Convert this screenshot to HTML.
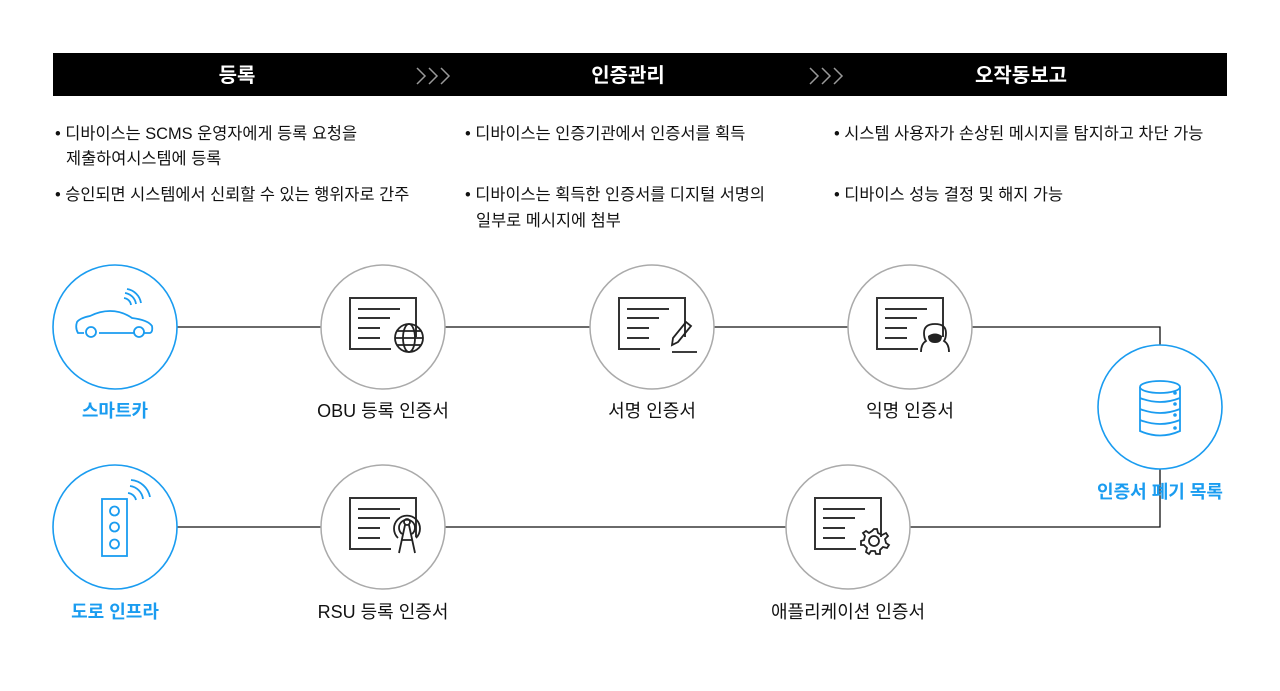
<!DOCTYPE html>
<html><head><meta charset="utf-8"><style>
body{margin:0;background:#fff;width:1280px;height:686px;overflow:hidden}
svg text{font-family:"Liberation Sans","Noto Sans CJK KR",sans-serif}
</style></head><body>
<svg width="1280" height="686" viewBox="0 0 1280 686" xmlns="http://www.w3.org/2000/svg">
<defs>
<g id="doc" fill="none" stroke="#333" stroke-width="2">
<polyline points="33,10 33,-29 -33,-29 -33,22 8,22"/>
<line x1="-25" y1="-18" x2="17" y2="-18"/>
<line x1="-25" y1="-9" x2="7" y2="-9"/>
<line x1="-25" y1="1" x2="-3" y2="1"/>
<line x1="-25" y1="11" x2="-3" y2="11"/>
</g>
<g id="chev" fill="none" stroke="#999" stroke-width="1.5">
<polyline points="0,0 8,8 0,16"/><polyline points="12,0 20,8 12,16"/><polyline points="24,0 32,8 24,16"/>
</g>
</defs>
<rect x="53" y="53" width="1174" height="43" fill="#000"/>
<g fill="#fff" font-size="20" font-weight="bold" text-anchor="middle">
<text x="237" y="82">등록</text><text x="628" y="82">인증관리</text><text x="1021" y="82">오작동보고</text>
</g>
<use href="#chev" x="417" y="68"/>
<use href="#chev" x="810" y="68"/>
<g fill="#111" font-size="16.4">
<text x="55" y="139">• 디바이스는 SCMS 운영자에게 등록 요청을</text>
<text x="66" y="164">제출하여시스템에 등록</text>
<text x="55" y="200">• 승인되면 시스템에서 신뢰할 수 있는 행위자로 간주</text>
<text x="465" y="139">• 디바이스는 인증기관에서 인증서를 획득</text>
<text x="465" y="200">• 디바이스는 획득한 인증서를 디지털 서명의</text>
<text x="476" y="226">일부로 메시지에 첨부</text>
<text x="834" y="139">• 시스템 사용자가 손상된 메시지를 탐지하고 차단 가능</text>
<text x="834" y="200">• 디바이스 성능 결정 및 해지 가능</text>
</g>
<g fill="none" stroke="#111" stroke-width="1.3">
<polyline points="177,327 1160,327 1160,345"/>
<polyline points="177,527 1160,527 1160,469"/>
</g>
<g fill="#fff" stroke="#aaa" stroke-width="1.5">
<circle cx="383" cy="327" r="62"/><circle cx="652" cy="327" r="62"/><circle cx="910" cy="327" r="62"/>
<circle cx="383" cy="527" r="62"/><circle cx="848" cy="527" r="62"/>
</g>
<g fill="#fff" stroke="#1a9cf0" stroke-width="1.6">
<circle cx="115" cy="327" r="62"/><circle cx="115" cy="527" r="62"/><circle cx="1160" cy="407" r="62"/>
</g>
<g fill="none" stroke="#1a9cf0" stroke-width="1.8">
<path d="M84,333 L78,333 Q75,328 77,322 Q80,318 90,316 Q100,311 110,311 Q122,311 132,318 Q148,320 152,326 Q153,332 150,333 L144,333 M135,333 L99,333"/>
<circle cx="91" cy="332" r="5"/><circle cx="139" cy="332" r="5"/>
<path d="M124,298 A8,8 0 0 1 131,305 M125,293 A13,13 0 0 1 136,304 M127,289 A17,17 0 0 1 141,303"/>
<rect x="102" y="499" width="25" height="57"/>
<circle cx="114.5" cy="511" r="4.5"/><circle cx="114.5" cy="527" r="4.5"/><circle cx="114.5" cy="544" r="4.5"/>
<path d="M128,493 A9,9 0 0 1 136,500 M130,486 A15,15 0 0 1 143,499 M131,480 A21,21 0 0 1 150,497"/>
<ellipse cx="1160" cy="387" rx="20" ry="6"/>
<path d="M1140,387 V431 Q1160,440 1180,431 V387 M1140,398 Q1160,406 1180,398 M1140,409 Q1160,417 1180,409 M1140,420 Q1160,428 1180,420"/>
</g>
<g fill="#1a9cf0"><circle cx="1175" cy="393" r="1.8"/><circle cx="1175" cy="404" r="1.8"/><circle cx="1175" cy="415" r="1.8"/><circle cx="1175" cy="428" r="1.8"/></g>
<use href="#doc" x="383" y="327"/>
<use href="#doc" x="652" y="327"/>
<use href="#doc" x="910" y="327"/>
<use href="#doc" x="383" y="527"/>
<use href="#doc" x="848" y="527"/>
<g fill="none" stroke="#222" stroke-width="1.8">
<circle cx="409" cy="338" r="14"/><ellipse cx="409" cy="338" rx="6" ry="14"/>
<line x1="395" y1="338" x2="423" y2="338"/><path d="M397,331 H421 M397,345 H421"/>
<path d="M672,345 L673,338 L686,322 L691,326 L678,342 Z M672,352 H697"/>
<path d="M921,352 Q921,344 926,341 Q924,338 924,333 Q924,324 935,324 Q946,324 946,333 Q946,338 944,341 Q949,344 949,352"/>
<circle cx="407" cy="522" r="3"/><path d="M402,534 A8,8 0 1 1 412,534 M398,538 A13,13 0 1 1 416,538 M405,525 L399,553 M409,525 L415,553 M402,540 L412,540"/>
<circle cx="874" cy="541" r="5"/>
<path d="M874,529 L877,529 L878,533 L882,535 L886,533 L888,536 L885,539 L886,543 L889,545 L887,548 L883,547 L880,550 L880,554 L876,554 L875,551 L871,551 L869,554 L866,552 L867,548 L864,545 L861,545 L861,541 L864,540 L865,536 L863,533 L866,531 L869,533 L872,531 Z"/>
</g>
<path d="M928,336 Q935,331 942,336 Q942,343 935,343 Q928,343 928,336 Z" fill="#222"/>
<g font-size="18" text-anchor="middle" fill="#111">
<text x="383" y="417">OBU 등록 인증서</text>
<text x="652" y="417">서명 인증서</text>
<text x="910" y="417">익명 인증서</text>
<text x="383" y="618">RSU 등록 인증서</text>
<text x="848" y="618">애플리케이션 인증서</text>
</g>
<g font-size="18" text-anchor="middle" fill="#1a9cf0" font-weight="bold">
<text x="115" y="417">스마트카</text>
<text x="115" y="618">도로 인프라</text>
<text x="1160" y="498">인증서 폐기 목록</text>
</g>
</svg>
</body></html>
